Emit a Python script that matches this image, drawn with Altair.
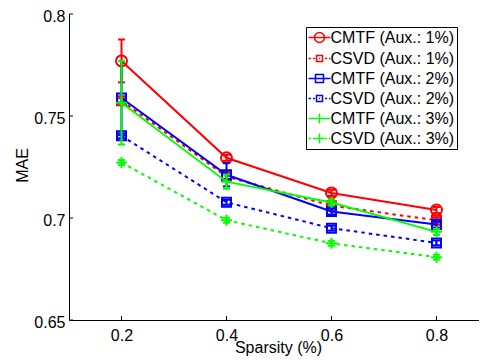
import altair as alt
import pandas as pd

# ---- data ----
sparsity = [0.2, 0.4, 0.6, 0.8]
series_names = [
    "CMTF (Aux.: 1%)", "CSVD (Aux.: 1%)",
    "CMTF (Aux.: 2%)", "CSVD (Aux.: 2%)",
    "CMTF (Aux.: 3%)", "CSVD (Aux.: 3%)",
]
cmtf_1 = [0.7770, 0.7295, 0.7123, 0.7039]
csvd_1 = [0.7575, 0.7203, 0.7060, 0.6989]
cmtf_2 = [0.7588, 0.7212, 0.7032, 0.6968]
csvd_2 = [0.7403, 0.7077, 0.6950, 0.6878]
cmtf_3 = [0.7565, 0.7178, 0.7076, 0.6932]
csvd_3 = [0.7272, 0.6989, 0.6876, 0.6808]
err_cmtf_1 = [0.0105, 0.0015, 0.0015, 0.0015]
err_csvd_1 = [0.0012, 0.0012, 0.0012, 0.0012]
err_cmtf_2 = [0.0182, 0.0057, 0.0015, 0.0015]
err_csvd_2 = [0.0012, 0.0012, 0.0012, 0.0012]
err_cmtf_3 = [0.0205, 0.0035, 0.0015, 0.0015]
err_csvd_3 = [0.0012, 0.0012, 0.0012, 0.0012]
y_ticks = [0.65, 0.7, 0.75, 0.8]

values = [cmtf_1, csvd_1, cmtf_2, csvd_2, cmtf_3, csvd_3]
errors = [err_cmtf_1, err_csvd_1, err_cmtf_2, err_csvd_2, err_cmtf_3, err_csvd_3]

# ---- styles ----
colors = ["#ff0000", "#ff0000", "#0000ff", "#0000ff", "#00ff00", "#00ff00"]
dashes = [None, [3.5, 4], None, [3.5, 4], None, [3.5, 4]]
circle = "M-1,0A1,1 0 1,1 1,0A1,1 0 1,1 -1,0Z"
square = "M-1,-1H1V1H-1Z"
plus = "M-1,0H1M0,-1V1"
marker_shapes = [circle, square, square, square, plus, plus]
marker_sizes = [121, 81, 81, 81, 121, 121]

# legend symbols (unit = 7px, symbolSize 196)
solid = "M-1.143,0H2"
dotted = "M-1.143,0H-0.786M-0.5,0H-0.214M1.214,0H1.5M1.786,0H2"
leg_circle = "M-0.286,0A0.714,0.714 0 1,1 1.143,0A0.714,0.714 0 1,1 -0.286,0"
leg_small_sq = "M0,-0.429H0.857V0.429H0ZM0.357,0H0.5"
leg_sq = "M-0.143,-0.571H1V0.571H-0.143Z"
leg_plus = "M-0.286,0H1.143M0.4286,-0.714V0.714"
legend_paths = [
    solid + leg_circle,
    dotted + leg_small_sq,
    solid + leg_sq,
    dotted + leg_small_sq,
    solid + leg_plus,
    dotted + leg_plus,
]

FONT = "Liberation Sans"
W, H = 410, 306
xscale = alt.Scale(domain=[0.1, 0.881], nice=False, zero=False)
yscale = alt.Scale(domain=[0.65, 0.8], nice=False, zero=False)

x_axis = alt.Axis(values=sparsity, format="~g", title="Sparsity (%)", grid=False,
                  ticks=False, domainColor="black", labelPadding=7,
                  titleX=209, titleY=32, titleBaseline="alphabetic", titleAlign="center")
y_axis = alt.Axis(values=y_ticks, format="~g", title="MAE", grid=False,
                  ticks=False, domainColor="black", labelPadding=4, labelOffset=2,
                  titleX=-42, titleY=151, titleBaseline="alphabetic", titleAlign="center")

layers = []
base_axes = alt.Chart(pd.DataFrame({"x": sparsity, "y": y_ticks})).mark_point(opacity=0).encode(
    x=alt.X("x:Q", scale=xscale, axis=x_axis),
    y=alt.Y("y:Q", scale=yscale, axis=y_axis),
)
layers.append(base_axes)

for i, name in enumerate(series_names):
    df = pd.DataFrame({"x": sparsity, "y": values[i], "e": errors[i]})
    base = alt.Chart(df).transform_calculate(lo="datum.y - datum.e", hi="datum.y + datum.e")
    line_kwargs = dict(color=colors[i], strokeWidth=2, clip=True)
    if dashes[i] is not None:
        line_kwargs["strokeDash"] = dashes[i]
    line = base.mark_line(**line_kwargs).encode(
        x=alt.X("x:Q", scale=xscale), y=alt.Y("y:Q", scale=yscale))
    err = base.mark_rule(color=colors[i], strokeWidth=2).encode(
        x=alt.X("x:Q", scale=xscale), y=alt.Y("lo:Q", scale=yscale), y2="hi:Q")
    cap_lo = base.mark_point(shape="M-1,0H1", size=49, filled=False, color=colors[i],
                             strokeWidth=2, opacity=1).encode(
        x=alt.X("x:Q", scale=xscale), y=alt.Y("lo:Q", scale=yscale))
    cap_hi = base.mark_point(shape="M-1,0H1", size=49, filled=False, color=colors[i],
                             strokeWidth=2, opacity=1).encode(
        x=alt.X("x:Q", scale=xscale), y=alt.Y("hi:Q", scale=yscale))
    pts = base.mark_point(shape=marker_shapes[i], size=marker_sizes[i], filled=False,
                          color=colors[i], strokeWidth=2, opacity=1).encode(
        x=alt.X("x:Q", scale=xscale), y=alt.Y("y:Q", scale=yscale))
    layers += [line, err, cap_lo, cap_hi, pts]

# inward ticks
xt = alt.Chart(pd.DataFrame({"x": sparsity})).mark_rule(color="black", strokeWidth=1).encode(
    x=alt.X("x:Q", scale=xscale), y=alt.value(H), y2=alt.value(H - 4))
yt = alt.Chart(pd.DataFrame({"t": y_ticks})).mark_rule(color="black", strokeWidth=1).encode(
    y=alt.Y("t:Q", scale=yscale), x=alt.value(0), x2=alt.value(4))
layers += [xt, yt]

# legend (drawn from scales only)
leg_df = pd.DataFrame({"series": series_names, "x": sparsity[:1] * 6, "y": cmtf_1[:1] * 6})
legend_layer = alt.Chart(leg_df).transform_filter("false").mark_point(filled=False, opacity=1).encode(
    x=alt.X("x:Q", scale=xscale),
    y=alt.Y("y:Q", scale=yscale),
    color=alt.Color("series:N", scale=alt.Scale(domain=series_names, range=colors),
                    legend=alt.Legend(title=None, orient="none", legendX=237, legendY=13)),
    shape=alt.Shape("series:N", scale=alt.Scale(domain=series_names, range=legend_paths),
                    legend=alt.Legend(title=None, orient="none", legendX=237, legendY=13)),
)
layers.append(legend_layer)

chart = alt.layer(*layers).properties(
    width=W, height=H,
    autosize=alt.AutoSizeParams(type="none"),
    padding={"left": 61, "top": 6, "right": 0, "bottom": 36},
).configure_view(stroke=None).configure_axis(
    labelFont=FONT, titleFont=FONT, labelFontSize=16, titleFontSize=16,
    labelColor="black", titleColor="black", titleFontWeight="normal", domainWidth=1,
).configure_legend(
    labelFont=FONT, labelFontSize=16, labelColor="black", padding=2.5, rowPadding=4,
    symbolSize=196, symbolStrokeWidth=1.5, strokeColor="black", fillColor="white",
    labelOffset=6, cornerRadius=0,
)

chart.save("out.html", embed_options={"renderer": "svg", "actions": False})
